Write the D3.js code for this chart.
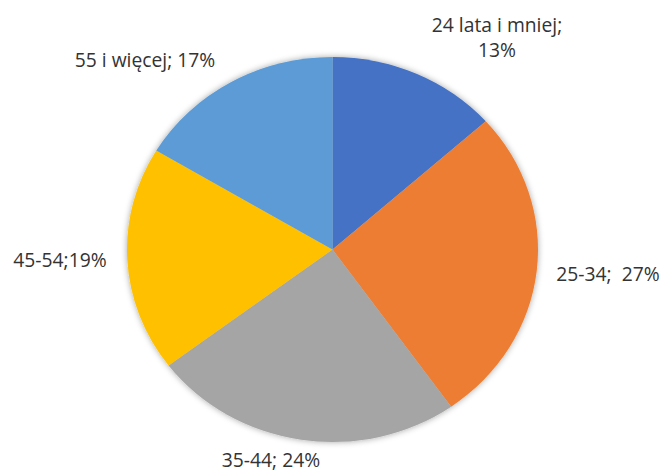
<!DOCTYPE html>
<html>
<head>
<meta charset="utf-8">
<script src="https://cdn.jsdelivr.net/npm/d3@7"></script>
<style>
  html, body { margin: 0; padding: 0; background: #fff; }
  svg { display: block; }
</style>
</head>
<body>
<svg id="chart" width="665" height="473"></svg>
<script>
const categories = ["24 lata i mniej", "25-34", "35-44", "45-54", "55 i więcej"];
const values = [13.4, 26.8, 24.5, 18.9, 16.4];
const labelLines = [
  ["24 lata i mniej;", "13%"],
  ["25-34;  27%"],
  ["35-44; 24%"],
  ["45-54;19%"],
  ["55 i więcej; 17%"]
];
const colors = ["#4472C4", "#ED7D31", "#A5A5A5", "#FFC000", "#5B9BD5"];
// label anchor layout (center x, first baseline y)
const labelLayout = [[497, 32], [608, 281], [271, 467], [60, 267], [145, 67]];

const svg = d3.select("#chart");
const cx = 332.5, cy = 249.5, rx = 205.5, ry = 192.5;

const defs = svg.append("defs");
const f = defs.append("filter").attr("id", "sh")
  .attr("x", "-10%").attr("y", "-10%").attr("width", "120%").attr("height", "120%");
f.append("feDropShadow").attr("dx", 0).attr("dy", 0).attr("stdDeviation", 3)
  .attr("flood-color", "#000").attr("flood-opacity", 0.35);

const pie = d3.pie().sort(null).value(d => d);
const arcs = pie(values);
const arc = d3.arc().innerRadius(0).outerRadius(ry);

const g = svg.append("g")
  .attr("transform", `translate(${cx},${cy}) scale(${rx / ry},1)`)
  .attr("filter", "url(#sh)");

g.selectAll("path").data(arcs).enter().append("path")
  .attr("d", arc)
  .attr("fill", (d, i) => colors[i]);

const lg = svg.append("g")
  .attr("font-family", "'Open Sans', 'Noto Sans', sans-serif")
  .attr("font-size", 19.3)
  .attr("fill", "#333");

labelLines.forEach((lines, i) => {
  const t = lg.append("text")
    .attr("x", labelLayout[i][0])
    .attr("y", labelLayout[i][1])
    .attr("text-anchor", "middle")
    .attr("xml:space", "preserve");
  lines.forEach((ln, j) => {
    t.append("tspan").attr("x", labelLayout[i][0]).attr("dy", j === 0 ? 0 : 25).text(ln);
  });
});
</script>
</body>
</html>
